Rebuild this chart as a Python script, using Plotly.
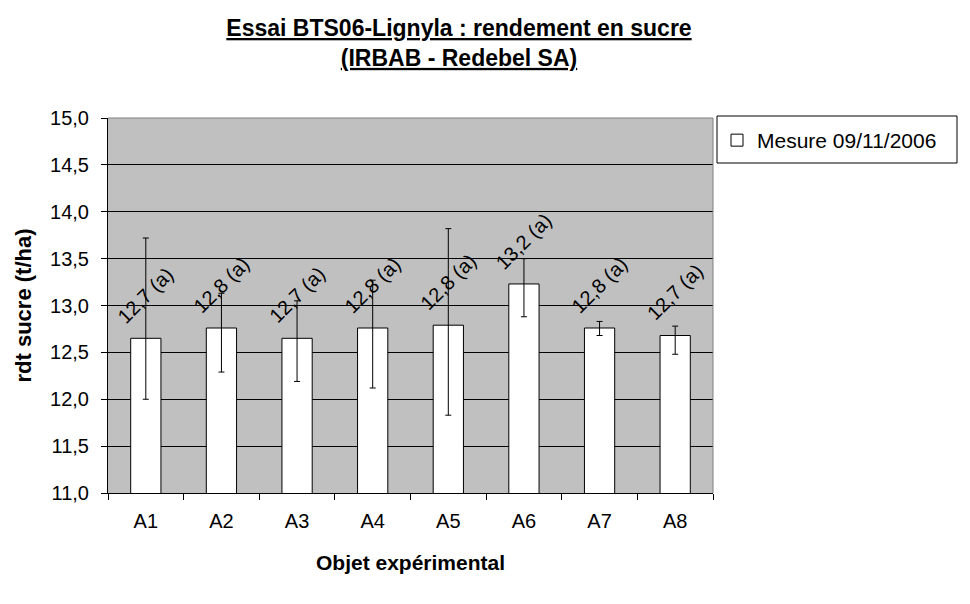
import plotly.graph_objects as go

categories = ["A1", "A2", "A3", "A4", "A5", "A6", "A7", "A8"]
values = [12.65, 12.76, 12.65, 12.76, 12.79, 13.23, 12.76, 12.68]
err_plus = [1.07, 0.37, 0.40, 0.51, 1.03, 0.27, 0.07, 0.10]
err_minus = [0.65, 0.47, 0.46, 0.64, 0.96, 0.35, 0.08, 0.20]
labels = ["12,7 (a)", "12,8 (a)", "12,7 (a)", "12,8 (a)", "12,8 (a)", "13,2 (a)", "12,8 (a)", "12,7 (a)"]
y_ticks = [11.0, 11.5, 12.0, 12.5, 13.0, 13.5, 14.0, 14.5, 15.0]

FONT = "Liberation Sans, Arial, sans-serif"

fig = go.Figure()
fig.add_trace(go.Bar(
    x=categories, y=values, name="Mesure 09/11/2006",
    marker=dict(color="white", line=dict(color="black", width=1)),
    error_y=dict(type="data", symmetric=False, array=err_plus, arrayminus=err_minus,
                 color="black", thickness=1, width=3),
    showlegend=True,
))

annotations = []
for c, v, lab in zip(categories, values, labels):
    annotations.append(dict(
        x=c, y=v, xref="x", yref="y", text=lab, showarrow=False,
        textangle=-45, xanchor="center", yanchor="bottom", yshift=8,
        font=dict(family=FONT, size=20, color="black"),
    ))

W, H = 970, 604
L, R, T, B = 108, 713, 118, 493

fig.update_layout(
    width=W, height=H,
    margin=dict(l=L, r=W - R, t=T, b=H - B, pad=0),
    paper_bgcolor="white", plot_bgcolor="#C0C0C0",
    separators=", ",
    font=dict(family=FONT, size=20, color="black"),
    bargap=0.6,
    title=dict(
        text="<b><u>Essai BTS06-Lignyla : rendement en sucre</u></b><br><b><u>(IRBAB - Redebel SA)</u></b>",
        x=459 / W, xref="container", xanchor="center",
        y=1 - 36 / H, yref="container", yanchor="middle",
        font=dict(family=FONT, size=23, color="black"),
    ),
    xaxis=dict(
        title=dict(text="<b>Objet expérimental</b>", font=dict(size=21), standoff=24),
        showline=True, linecolor="black", linewidth=1,
        ticks="outside", ticklen=6, tickcolor="black", tickson="boundaries",
        showgrid=False, tickfont=dict(size=20), ticklabelstandoff=10,
    ),
    yaxis=dict(
        title=dict(text="<b>rdt sucre (t/ha)</b>", font=dict(size=22), standoff=12),
        range=[11, 15], tickvals=y_ticks, tickformat=".1f",
        showline=True, linecolor="black", linewidth=1,
        ticks="outside", ticklen=6, tickcolor="black",
        showgrid=True, gridcolor="black", gridwidth=1,
        tickfont=dict(size=20), zeroline=False, ticklabelstandoff=8,
    ),
    legend=dict(
        x=(717 - L) / (R - L), xanchor="left",
        y=(B - 120) / (B - T), yanchor="top",
        bgcolor="rgba(0,0,0,0)", borderwidth=0,
        font=dict(family=FONT, size=21, color="black"),
    ),
    annotations=annotations,
    shapes=[
        dict(type="rect", xref="paper", yref="paper",
             x0=(717 - L) / (R - L), x1=(957 - L) / (R - L),
             y0=(B - 163) / (B - T), y1=(B - 116) / (B - T),
             line=dict(color="black", width=1), fillcolor="white", layer="below"),
        dict(type="line", xref="paper", yref="paper", x0=0, x1=1, y0=1, y1=1,
             line=dict(color="#808080", width=1)),
        dict(type="line", xref="paper", yref="paper", x0=1, x1=1, y0=0, y1=1,
             line=dict(color="#808080", width=1)),
    ],
)

fig.write_html("out.html", config={"displayModeBar": False},
               post_script="document.body.style.margin='0px';")
